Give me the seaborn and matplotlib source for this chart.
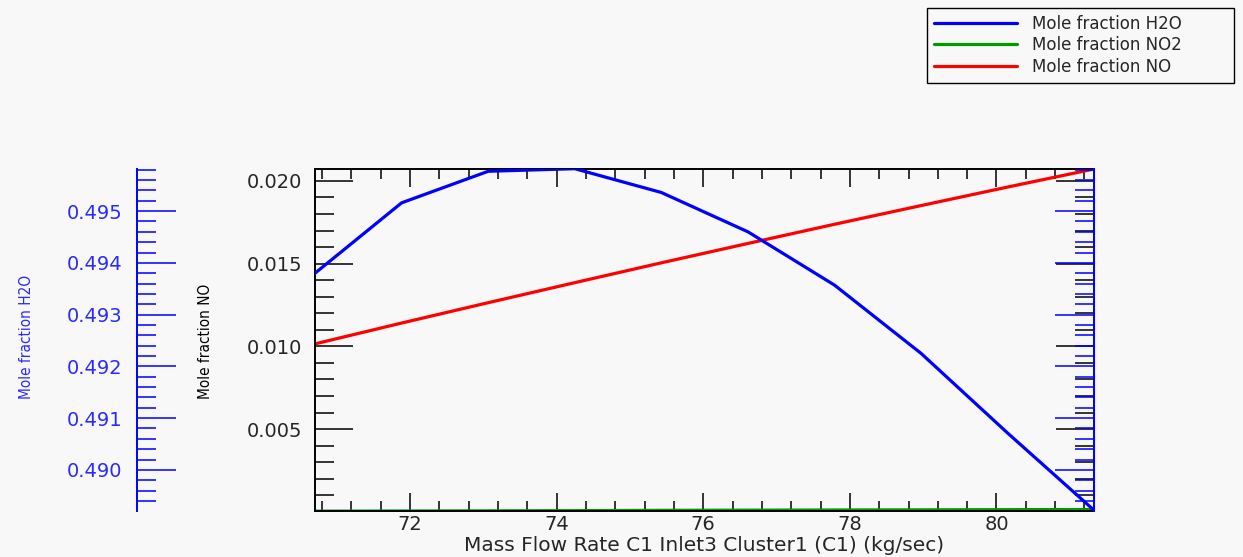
import matplotlib
matplotlib.use("Agg")
import matplotlib.pyplot as plt
from matplotlib import font_manager
from matplotlib.ticker import MultipleLocator, FormatStrFormatter
import pandas as pd
import seaborn as sns

# Mass flow rate sweep (kg/sec) and the resulting outlet mole fractions
mass_flow = [70.705, 71.886, 73.067, 74.248, 75.429, 76.610, 77.791, 78.972, 80.153, 81.330]
h2o = [0.49380, 0.49516, 0.49577, 0.49582, 0.49536, 0.49460, 0.49357, 0.49225, 0.49071, 0.48922]
no = [0.01015, 0.01141, 0.01264, 0.01385, 0.01505, 0.01622, 0.01738, 0.01851, 0.01963, 0.02072]
no2 = [0.00004, 0.00005, 0.00006, 0.00007, 0.00009, 0.00010, 0.00011, 0.00012, 0.00013, 0.00014]
series_labels = ["Mole fraction H2O", "Mole fraction NO2", "Mole fraction NO"]
x_label = "Mass Flow Rate C1 Inlet3 Cluster1 (C1) (kg/sec)"

sns.set_style("ticks")
plt.rcParams["font.family"] = ["DejaVu Sans"]

names = {f.name for f in font_manager.fontManager.ttflist}
if "Liberation Sans Narrow" in names:
    vlabel_font = dict(family="Liberation Sans Narrow", fontsize=14)
else:
    vlabel_font = dict(family="DejaVu Sans", fontstretch="condensed", fontsize=11)

bg = "#f8f8f8"
blue, green, red = "#0000ff", "#009900", "#ff0000"
axis_blue = "#2a2aff"

W, H = 1243, 557
fig = plt.figure(figsize=(W / 100, H / 100), dpi=100, facecolor=bg)
ax = fig.add_axes([315 / W, 1 - 511 / H, 779 / W, 342 / H])
ax.set_facecolor(bg)
ax2 = ax.twinx()

df = pd.DataFrame({"flow": mass_flow, "h2o": h2o, "no": no, "no2": no2})
sns.lineplot(data=df, x="flow", y="no2", ax=ax, color=green, lw=2.3, legend=False)
sns.lineplot(data=df, x="flow", y="no", ax=ax, color=red, lw=2.3, legend=False)
sns.lineplot(data=df, x="flow", y="h2o", ax=ax2, color=blue, lw=2.3, legend=False)
no2_line, no_line = ax.get_lines()[0], ax.get_lines()[1]
h2o_line = ax2.get_lines()[0]

ax.set_xlim(70.705, 81.33)
ax.set_ylim(0.00005, 0.02072)
ax2.set_ylim(0.489205, 0.495814)

# x axis
ax.xaxis.set_major_locator(MultipleLocator(2))
ax.xaxis.set_minor_locator(MultipleLocator(0.4))
ax.xaxis.set_major_formatter(FormatStrFormatter("%d"))
ax.tick_params(axis="x", which="both", direction="in", top=True, bottom=True,
               labelsize=14, pad=3, width=1.1, color="black")
ax.tick_params(axis="x", which="major", length=13)
ax.tick_params(axis="x", which="minor", length=7)
ax.set_xlabel(x_label, fontsize=14.5, labelpad=1)

# NO axis
ax.yaxis.set_major_locator(MultipleLocator(0.005))
ax.yaxis.set_minor_locator(MultipleLocator(0.001))
ax.yaxis.set_major_formatter(FormatStrFormatter("%.3f"))
ax.tick_params(axis="y", which="both", direction="in", left=True, right=True,
               labelsize=14, pad=9.4, width=1.1, color="black")
ax.tick_params(axis="y", which="major", length=27.5)
ax.tick_params(axis="y", which="minor", length=13.5)

# H2O axis: outer left spine plus the right frame edge
ax2.yaxis.set_major_locator(MultipleLocator(0.001))
ax2.yaxis.set_minor_locator(MultipleLocator(0.0002))
ax2.yaxis.set_major_formatter(FormatStrFormatter("%.3f"))
ax2.spines["left"].set_visible(True)
ax2.spines["left"].set_position(("outward", 178 * 0.72))
for side in ("left", "right"):
    ax2.spines[side].set_color(blue)
    ax2.spines[side].set_linewidth(1.4)
ax2.spines["top"].set_visible(False)
ax2.spines["bottom"].set_visible(False)
ax2.tick_params(axis="y", which="both", direction="in", left=True, right=True,
                labelleft=True, labelright=False, color=blue, labelcolor=axis_blue,
                labelsize=14, pad=10.8, width=1.1)
ax2.tick_params(axis="y", which="major", length=28)
ax2.tick_params(axis="y", which="minor", length=14)

for side in ("left", "top", "bottom"):
    ax.spines[side].set_color("black")
    ax.spines[side].set_linewidth(1.4)
ax.spines["right"].set_color(blue)

# rotated axis titles
ax.set_ylabel(series_labels[2], color="black", **vlabel_font)
ax.yaxis.label.set_verticalalignment("center")
ax.yaxis.set_label_coords((205 - 315) / 779, (511 - 341) / 342)

ax2.set_ylabel(series_labels[0], color=axis_blue, **vlabel_font)
ax2.yaxis.set_label_position("left")
ax2.yaxis.label.set_verticalalignment("center")
ax2.yaxis.set_label_coords((27 - 315) / 779, (511 - 337) / 342)

leg = fig.legend([h2o_line, no2_line, no_line], series_labels,
                 loc="upper left",
                 bbox_to_anchor=(927 / W, 1 - 77 / H, 307 / W, 69 / H),
                 bbox_transform=fig.transFigure, mode="expand", borderaxespad=0,
                 fontsize=12, handlelength=5.0, handletextpad=0.9,
                 borderpad=0.42, labelspacing=0.2, frameon=True, fancybox=False,
                 edgecolor="black", facecolor=bg, framealpha=1)
leg.get_frame().set_linewidth(1.0)

fig.savefig("out.png", dpi=100, facecolor=bg)
